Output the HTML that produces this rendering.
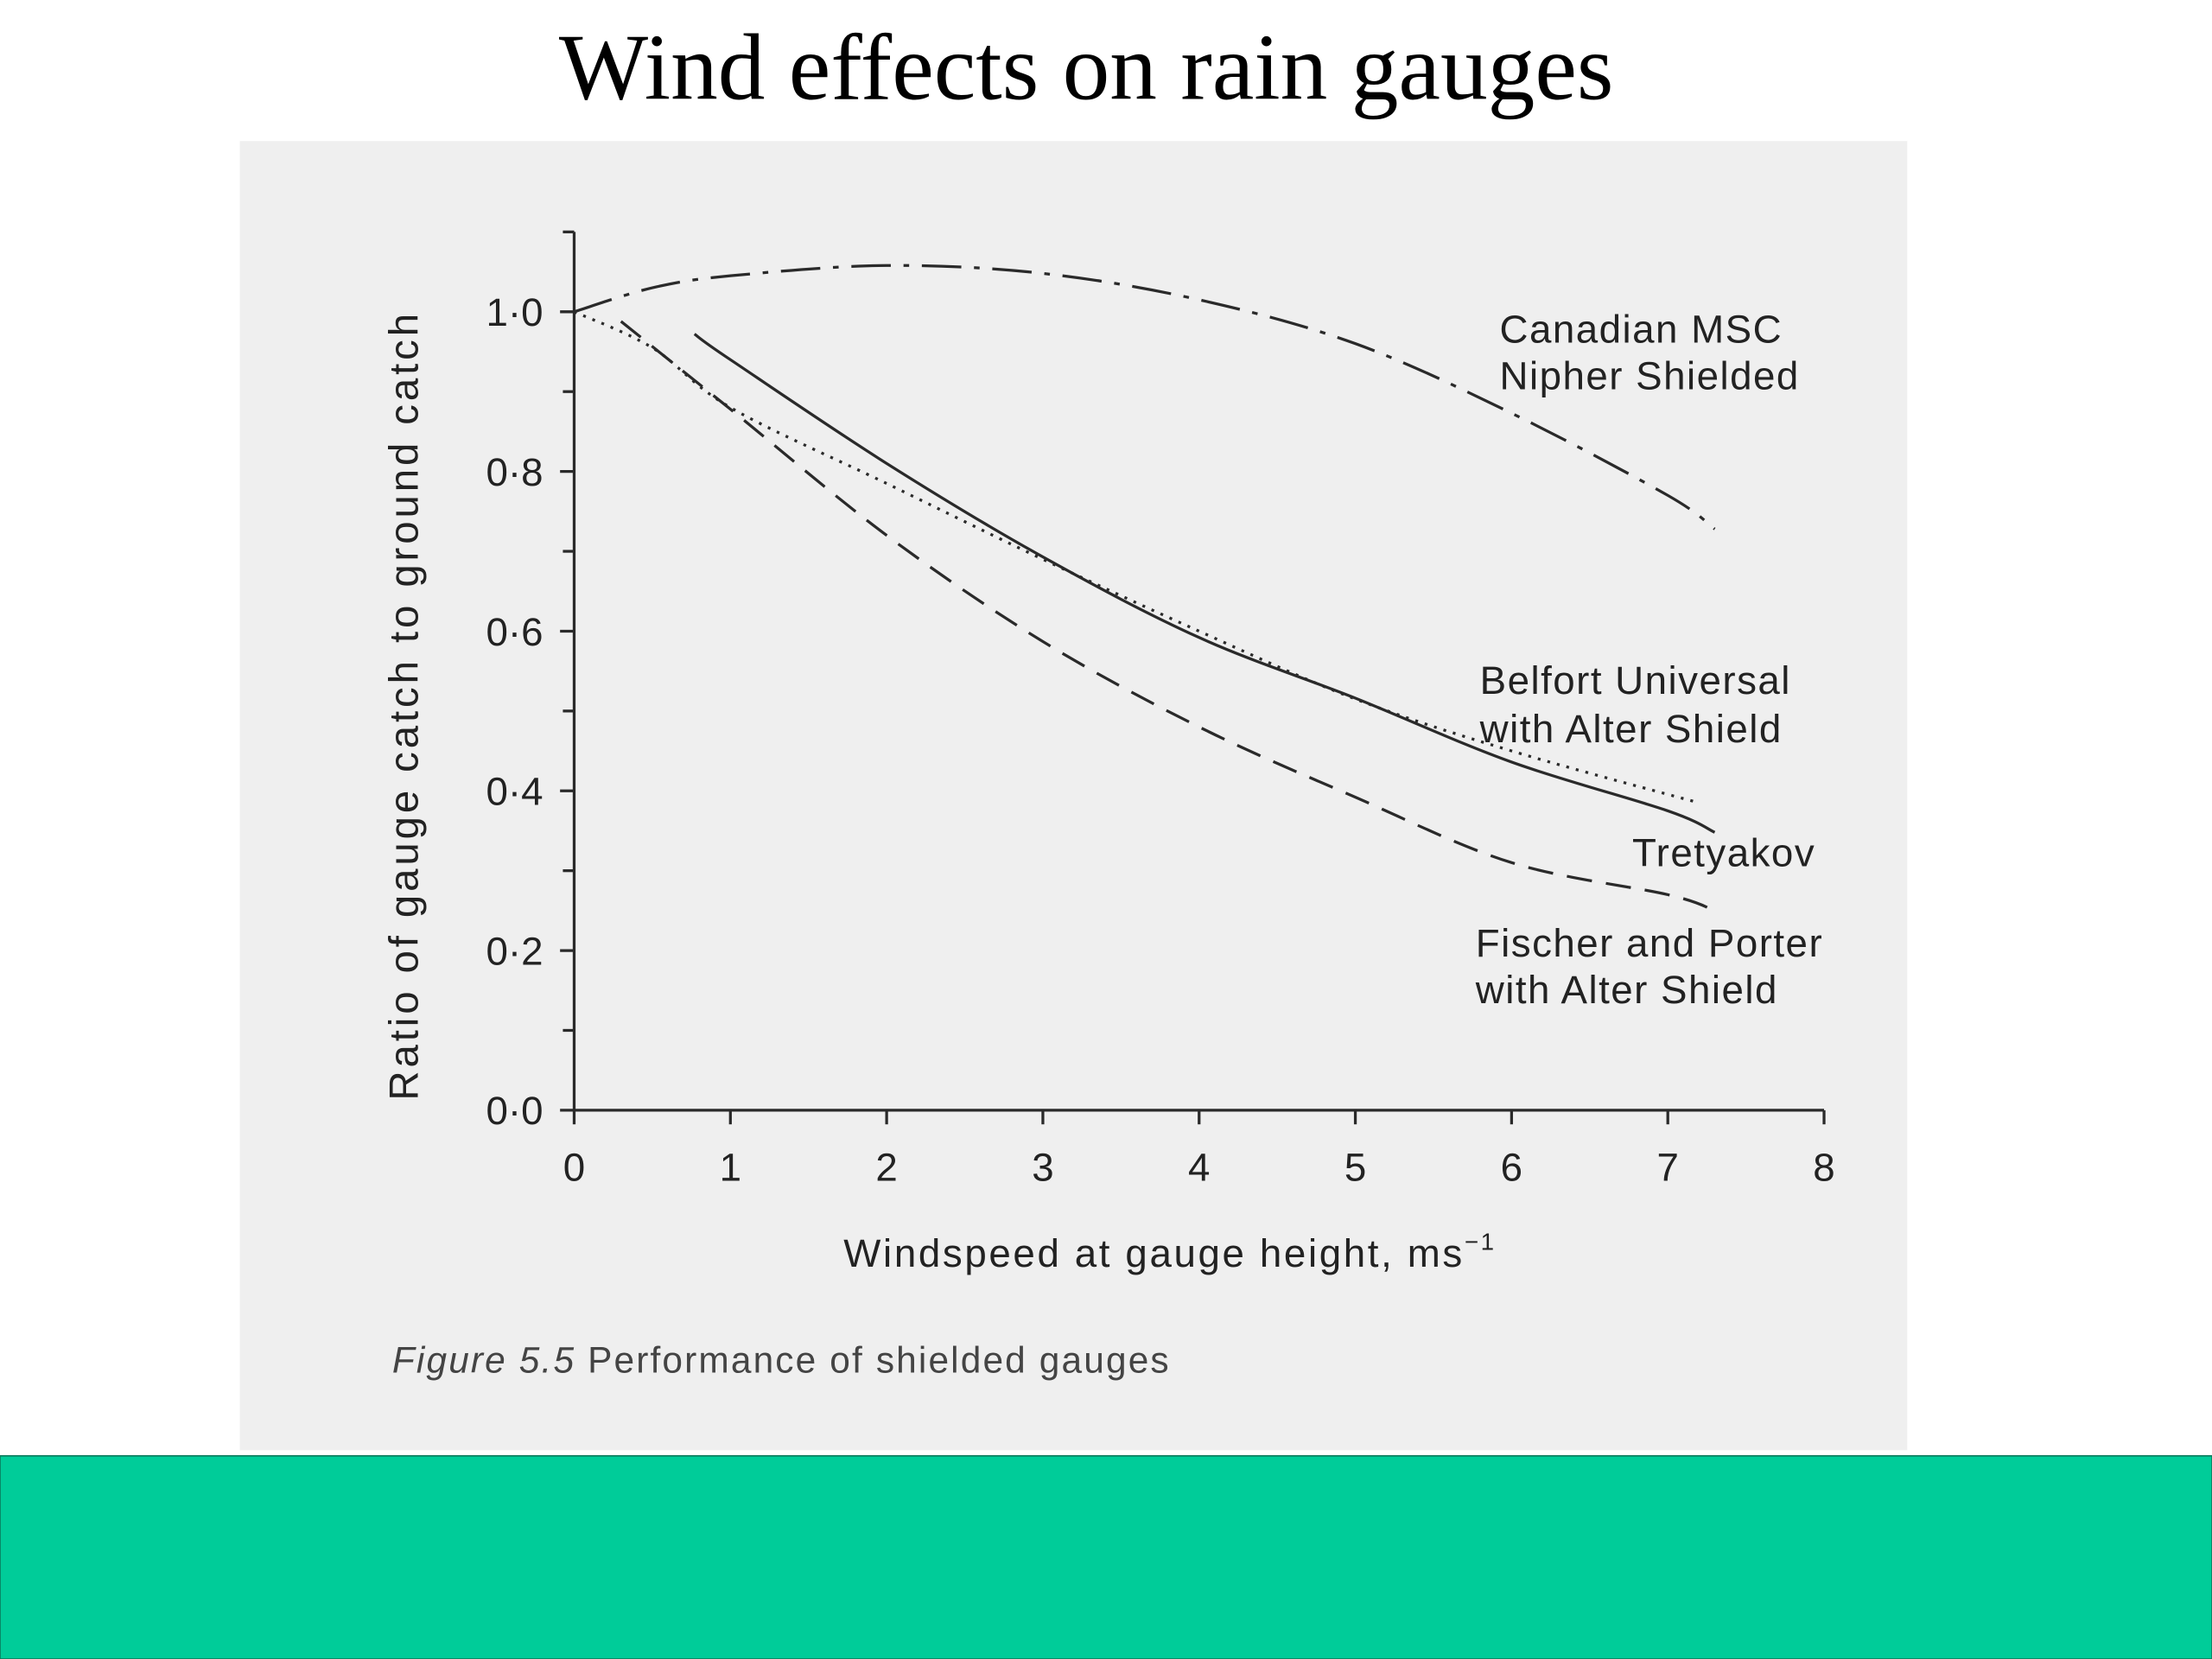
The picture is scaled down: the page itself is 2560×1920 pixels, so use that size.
<!DOCTYPE html>
<html><head><meta charset="utf-8"><style>
html,body{margin:0;padding:0;background:#fff;}
svg{display:block;}
</style></head><body>
<svg width="2560" height="1920" viewBox="0 0 1568 1176" xmlns="http://www.w3.org/2000/svg">
<rect x="0" y="0" width="1568" height="1176" fill="#ffffff"/>
<rect x="170" y="100" width="1182" height="928" fill="#efefef"/>
<rect x="0" y="1032" width="1568" height="144" fill="#00cc99" stroke="#0a7a5c" stroke-width="1"/>
<text x="770" y="70" text-anchor="middle" font-family="Liberation Serif, serif" font-size="67" fill="#000">Wind effects on rain gauges</text>
<g id="chart"></g>
<text x="278" y="973" font-family="Liberation Sans, sans-serif" font-size="26" letter-spacing="1.3" fill="#444"><tspan font-style="italic">Figure 5.5</tspan> Performance of shielded gauges</text>
</svg>
<script>
const xTicks=[0,1,2,3,4,5,6,7,8];
const yTicks=[0,0.2,0.4,0.6,0.8,1.0];
const yTickLabels=["0·0","0·2","0·4","0·6","0·8","1·0"];
const canadianX=[0,0.5,1,2,3,4,5,6,7,7.3];
const canadianY=[1.0,1.03,1.045,1.058,1.048,1.015,0.96,0.873,0.77,0.728];
const tretyakovX=[0.77,1,2,3,4,5,6,7,7.3];
const tretyakovY=[0.972,0.94,0.81,0.693,0.592,0.516,0.436,0.375,0.348];
const belfortX=[0,0.5,1,2,3,4,5,6,7.2];
const belfortY=[1.0,0.955,0.88,0.785,0.69,0.6,0.515,0.45,0.385];
const fischerX=[0.3,1,2,3,4,5,6,7,7.3];
const fischerY=[0.988,0.878,0.72,0.587,0.48,0.392,0.31,0.27,0.25];
const NS="http://www.w3.org/2000/svg";
const X0=407,X8=1293,Y0=787,Y1=221;
function sx(v){return X0+(X8-X0)*v/8;}
function sy(v){return Y0-(Y0-Y1)*v;}
const g=document.getElementById('chart');
function mk(tag,attrs){const e=document.createElementNS(NS,tag);for(const k in attrs)e.setAttribute(k,attrs[k]);g.appendChild(e);return e;}
const AX="#2a2a2a",F="Liberation Sans, sans-serif";
let e=mk('line',{x1:sx(0),y1:sy(0),x2:sx(8),y2:sy(0),stroke:AX,'stroke-width':2});


e=mk('line',{x1:sx(0),y1:sy(0),x2:sx(0),y2:sy(1.1),stroke:AX,'stroke-width':2});


mk('line',{x1:sx(0)-8,y1:sy(1.1),x2:sx(0),y2:sy(1.1),stroke:AX,'stroke-width':2});
xTicks.forEach(function(t){
  e=mk('line',{x1:sx(t),y1:sy(0),x2:sx(t),y2:sy(0)+10,stroke:AX,'stroke-width':2});
  
  
  e=mk('text',{x:sx(t),y:sy(0)+50,'text-anchor':'middle','font-family':F,'font-size':28,fill:'#222'});
  e.textContent=String(t);
  
  
});
for(let i=1;i<11;i+=2){
  e=mk('line',{x1:sx(0)-8,y1:sy(i/10),x2:sx(0),y2:sy(i/10),stroke:AX,'stroke-width':2});
  
  
}
yTicks.forEach(function(t,i){
  e=mk('line',{x1:sx(0)-10,y1:sy(t),x2:sx(0),y2:sy(t),stroke:AX,'stroke-width':2});
  
  
  e=mk('text',{x:sx(0)-22,y:sy(t)+10,'text-anchor':'end','font-family':F,'font-size':28,fill:'#222'});
  e.textContent=yTickLabels[i];
  
  
});
e=mk('text',{x:598,y:898,'font-family':F,'font-size':28,'letter-spacing':1.6,fill:'#222'});
e.innerHTML='Windspeed at gauge height, ms<tspan dy="-12" font-size="17">−1</tspan>';


e=mk('text',{x:0,y:0,'text-anchor':'middle','font-family':F,'font-size':29,'letter-spacing':2.4,fill:'#222',transform:'translate(296,500) rotate(-90)'});
e.textContent='Ratio of gauge catch to ground catch';


function line(xs,ys,dash,name){
  const P=xs.map(function(x,i){return [sx(x),sy(ys[i])];});
  let d='M'+P[0][0].toFixed(1)+','+P[0][1].toFixed(1);
  for(let i=0;i<P.length-1;i++){
    const p0=P[Math.max(0,i-1)],p1=P[i],p2=P[i+1],p3=P[Math.min(P.length-1,i+2)];
    const c1=[p1[0]+(p2[0]-p0[0])/6,p1[1]+(p2[1]-p0[1])/6];
    const c2=[p2[0]-(p3[0]-p1[0])/6,p2[1]-(p3[1]-p1[1])/6];
    d+='C'+c1[0].toFixed(1)+','+c1[1].toFixed(1)+' '+c2[0].toFixed(1)+','+c2[1].toFixed(1)+' '+p2[0].toFixed(1)+','+p2[1].toFixed(1);
  }
  const a={d:d,fill:'none',stroke:'#2a2a2a','stroke-width':2};
  if(dash)a['stroke-dasharray']=dash;
  const p=mk('path',a);
  
  
}
line(canadianX,canadianY,'28,9,4,9','canadian-msc-line');
line(tretyakovX,tretyakovY,null,'tretyakov-line');
line(belfortX,belfortY,'2,5','belfort-line');
line(fischerX,fischerY,'18,10','fischer-porter-line');
function lbl(x,y,t,name){const e=mk('text',{x:x,y:y,'font-family':F,'font-size':28,'letter-spacing':0.9,fill:'#222'});e.textContent=t;

}
lbl(1063,243,'Canadian MSC','label-canadian-1');
lbl(1063,276,'Nipher Shielded','label-canadian-2');
lbl(1049,492,'Belfort Universal','label-belfort-1');
lbl(1049,526,'with Alter Shield','label-belfort-2');
lbl(1157,614,'Tretyakov','label-tretyakov');
lbl(1046,678,'Fischer and Porter','label-fischer-1');
lbl(1046,711,'with Alter Shield','label-fischer-2');
</script>
</body></html>
